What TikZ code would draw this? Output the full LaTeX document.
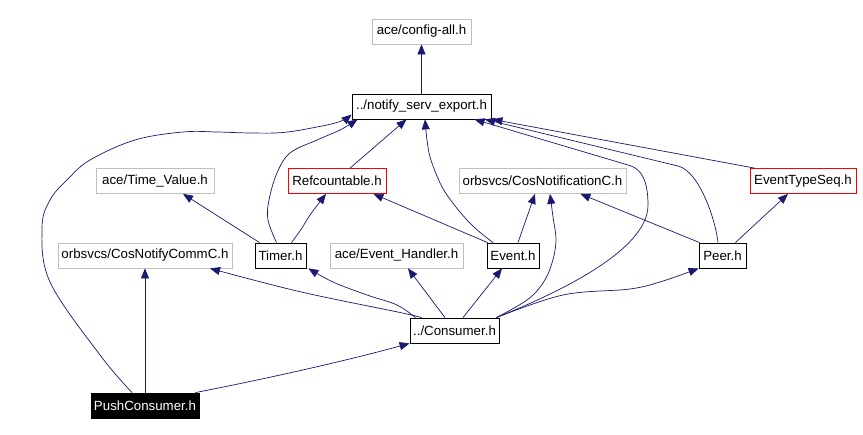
\documentclass[tikz,border=0pt]{standalone}
\usepackage{fontspec}
\setmainfont{Liberation Sans}
\usetikzlibrary{arrows.meta}
\definecolor{edgecol}{HTML}{191970}
\definecolor{graybox}{HTML}{BFBFBF}
\tikzset{
  hdr/.style={draw=black, line width=0.8pt, inner sep=0pt, minimum height=25pt,
    font=\fontsize{13.3}{15}\selectfont, text=black, fill=white},
  ext/.style={hdr, draw=graybox},
  redbox/.style={hdr, draw=red},
  rootbox/.style={hdr, fill=black, text=white},
  edge/.style={draw=edgecol, line width=0.7pt, -{Triangle[length=10pt,width=8pt]}}
}
\begin{document}
\begin{tikzpicture}[x=1pt,y=-1pt]
\useasboundingbox[fill=white] (0,0) rectangle (863,435);
% nodes
\node[ext, minimum width=99pt]  (cfg)  at (421.5,31.5)  {ace/config-all.h};
\node[hdr, minimum width=139pt] (nse)  at (421.5,106.5) {../notify\_serv\_export.h};
\node[ext, minimum width=118pt] (tv)   at (155,181)     {ace/Time\_Value.h};
\node[redbox, minimum width=98pt] (rc) at (337,181)     {Refcountable.h};
\node[ext, minimum width=167pt] (cnc)  at (542.5,181)   {orbsvcs/CosNotificationC.h};
\node[redbox, minimum width=106pt] (ets) at (803,181)   {EventTypeSeq.h};
\node[ext, minimum width=174pt] (cncc) at (145,255.5)   {orbsvcs/CosNotifyCommC.h};
\node[hdr, minimum width=51pt]  (tim)  at (280.5,255.5) {Timer.h};
\node[ext, minimum width=133pt] (eh)   at (396.5,255.5) {ace/Event\_Handler.h};
\node[hdr, minimum width=52pt]  (ev)   at (513,255.5)   {Event.h};
\node[hdr, minimum width=47pt]  (peer) at (722.5,255.5) {Peer.h};
\node[hdr, minimum width=89pt]  (cons) at (454.5,330.5) {../Consumer.h};
\node[rootbox, minimum width=108pt] (push) at (145,405.5) {PushConsumer.h};
% edges
\draw[edge] (nse) -- (cfg);
% PushConsumer
\draw[edge] plot[smooth, tension=0.6] coordinates {([xshift=-13pt]push.north) (100,355) (50,282) (42,228) (50,200) (67,180) (90,160) (135,140) (183,132) (217,132) (250,133) (283,132.5) (317,127) (340,121.5) ([yshift=-8pt]nse.west)};
\draw[edge] (push.north) -- (cncc.south);
\draw[edge] ([xshift=-4pt]push.north east) .. controls (290,374) and (360,357) .. (cons.south west);
% Consumer
\draw[edge] plot[smooth, tension=0.6] coordinates {([xshift=-33pt]cons.north) (400,312.5) (300,291.7) ([xshift=65pt]cncc.south)};
\draw[edge] plot[smooth, tension=0.6] coordinates {([xshift=-39pt]cons.north) (397,305) (367,295) (333,282) ([xshift=2pt]tim.south east)};
\draw[edge] ([xshift=-9.5pt]cons.north) -- ([xshift=11.5pt]eh.south);
\draw[edge] ([xshift=8.5pt]cons.north) -- ([xshift=-11pt]ev.south);
\draw[edge] plot[smooth, tension=0.6] coordinates {([xshift=-3pt]cons.north east) (527,300) (543,283) (552,263) (556,240) (553,217) ([xshift=7.5pt]cnc.south)};
\draw[edge] ([xshift=-3pt]cons.north east) .. controls (560,292) and (648,250) .. (648,205)
   .. controls (648,180) and (641,169) .. (630,165.6) -- ([xshift=53pt]nse.south);
\draw[edge] plot[smooth, tension=0.6] coordinates {([xshift=-3pt]cons.north east) (563,295) (630,289) (663,281) (peer.south west)};
% Timer
\draw[edge] ([xshift=5pt]tim.north west) -- ([xshift=28pt]tv.south);
\draw[edge] plot[smooth, tension=0.6] coordinates {([xshift=-4pt]tim.north) (268,220) (269,200) (277,173) (290,153) (317,140) (340,130) ([xshift=6pt]nse.south west)};
\draw[edge] plot[smooth, tension=0.6] coordinates {([xshift=11pt]tim.north) (302,228) (310,215) ([xshift=-11pt]rc.south)};
% Refcountable
\draw[edge] ([xshift=13pt]rc.north) -- ([xshift=-15pt]nse.south);
% Event
\draw[edge] ([xshift=1pt]ev.north west) -- ([xshift=-13pt]rc.south east);
\draw[edge] plot[smooth, tension=0.6] coordinates {([xshift=-20pt]ev.north) (475,228) (460,212) (445,192) (437,176) (430,157) (427,140) ([xshift=3.5pt]nse.south)};
\draw[edge] ([xshift=5pt]ev.north) -- ([xshift=-7.5pt]cnc.south);
% Peer
\draw[edge] ([xshift=1pt]peer.north west) -- ([xshift=-46pt]cnc.south east);
\draw[edge] ([xshift=-4.5pt]peer.north) .. controls (716,222) and (700,171.5) .. (678,166) -- ([xshift=63.5pt]nse.south);
\draw[edge] ([xshift=-11pt]peer.north east) -- ([xshift=-15pt]ets.south);
% EventTypeSeq
\draw[edge] ([xshift=5pt]ets.north west) -- ([xshift=1pt]nse.south east);
\end{tikzpicture}
\end{document}
